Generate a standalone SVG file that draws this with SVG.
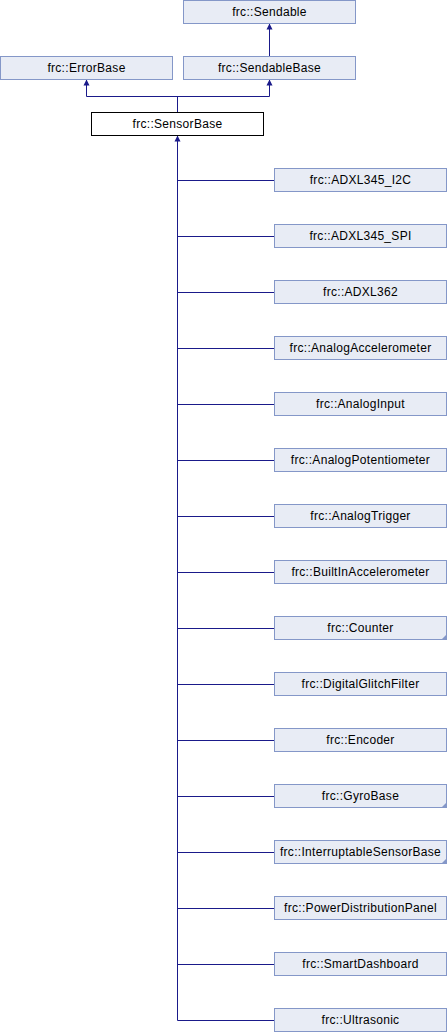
<svg xmlns="http://www.w3.org/2000/svg" width="447" height="1032" viewBox="0 0 447 1032">
<style>
.n rect{fill:#e8ecf5;stroke:#8497c8;stroke-width:1}
.w rect{fill:#ffffff;stroke:#000000;stroke-width:1}
text{font-family:"Liberation Sans",Arial,sans-serif;font-size:12px;letter-spacing:0.3px;fill:#000;text-anchor:middle}
.e{stroke:#1a1a8a;stroke-width:1;fill:none}
.a{fill:#1a1a8a;stroke:none}
.c{fill:#8497c8;stroke:none}
</style>
<rect width="447" height="1032" fill="#ffffff"/>
<g id="connectors">
<path class="e" d="M269.5 23.5V56.5M86.5 79.5V96.5H269.5V79.5M177.5 96.5V112.5M177.5 135.5V1020.5"/>
<path class="e" d="M177.5 180.5H274.5M177.5 236.5H274.5M177.5 292.5H274.5M177.5 348.5H274.5M177.5 404.5H274.5M177.5 460.5H274.5M177.5 516.5H274.5M177.5 572.5H274.5M177.5 628.5H274.5M177.5 684.5H274.5M177.5 740.5H274.5M177.5 796.5H274.5M177.5 852.5H274.5M177.5 908.5H274.5M177.5 964.5H274.5M177.5 1020.5H274.5"/>
<polygon class="a" points="269.5,23.5 266.5,29.5 272.5,29.5"/>
<polygon class="a" points="86.5,79.5 83.5,85.5 89.5,85.5"/>
<polygon class="a" points="269.5,79.5 266.5,85.5 272.5,85.5"/>
<polygon class="a" points="177.5,135.5 174.5,141.5 180.5,141.5"/>
</g>
<g id="Sendable" class="n"><rect x="183.5" y="0.5" width="172" height="23"/><text x="269.5" y="16">frc::Sendable</text></g>
<g id="ErrorBase" class="n"><rect x="0.5" y="56.5" width="172" height="23"/><text x="86.5" y="72">frc::ErrorBase</text></g>
<g id="SendableBase" class="n"><rect x="183.5" y="56.5" width="172" height="23"/><text x="269.5" y="72">frc::SendableBase</text></g>
<g id="SensorBase" class="w"><rect x="91.5" y="112.5" width="172" height="23"/><text x="177.5" y="128">frc::SensorBase</text></g>
<g id="ADXL345_I2C" class="n"><rect x="274.5" y="168.5" width="172" height="23"/><text x="360.5" y="184">frc::ADXL345_I2C</text></g>
<g id="ADXL345_SPI" class="n"><rect x="274.5" y="224.5" width="172" height="23"/><text x="360.5" y="240">frc::ADXL345_SPI</text></g>
<g id="ADXL362" class="n"><rect x="274.5" y="280.5" width="172" height="23"/><text x="360.5" y="296">frc::ADXL362</text></g>
<g id="AnalogAccelerometer" class="n"><rect x="274.5" y="336.5" width="172" height="23"/><text x="360.5" y="352">frc::AnalogAccelerometer</text></g>
<g id="AnalogInput" class="n"><rect x="274.5" y="392.5" width="172" height="23"/><text x="360.5" y="408">frc::AnalogInput</text></g>
<g id="AnalogPotentiometer" class="n"><rect x="274.5" y="448.5" width="172" height="23"/><text x="360.5" y="464">frc::AnalogPotentiometer</text></g>
<g id="AnalogTrigger" class="n"><rect x="274.5" y="504.5" width="172" height="23"/><text x="360.5" y="520">frc::AnalogTrigger</text></g>
<g id="BuiltInAccelerometer" class="n"><rect x="274.5" y="560.5" width="172" height="23"/><text x="360.5" y="576">frc::BuiltInAccelerometer</text></g>
<g id="Counter" class="n"><rect x="274.5" y="616.5" width="172" height="23"/><polygon class="c" points="441,640 447,640 447,634"/><text x="360.5" y="632">frc::Counter</text></g>
<g id="DigitalGlitchFilter" class="n"><rect x="274.5" y="672.5" width="172" height="23"/><text x="360.5" y="688">frc::DigitalGlitchFilter</text></g>
<g id="Encoder" class="n"><rect x="274.5" y="728.5" width="172" height="23"/><text x="360.5" y="744">frc::Encoder</text></g>
<g id="GyroBase" class="n"><rect x="274.5" y="784.5" width="172" height="23"/><polygon class="c" points="441,808 447,808 447,802"/><text x="360.5" y="800">frc::GyroBase</text></g>
<g id="InterruptableSensorBase" class="n"><rect x="274.5" y="840.5" width="172" height="23"/><polygon class="c" points="441,864 447,864 447,858"/><text x="360.5" y="856">frc::InterruptableSensorBase</text></g>
<g id="PowerDistributionPanel" class="n"><rect x="274.5" y="896.5" width="172" height="23"/><text x="360.5" y="912">frc::PowerDistributionPanel</text></g>
<g id="SmartDashboard" class="n"><rect x="274.5" y="952.5" width="172" height="23"/><text x="360.5" y="968">frc::SmartDashboard</text></g>
<g id="Ultrasonic" class="n"><rect x="274.5" y="1008.5" width="172" height="23"/><text x="360.5" y="1024">frc::Ultrasonic</text></g>
</svg>
